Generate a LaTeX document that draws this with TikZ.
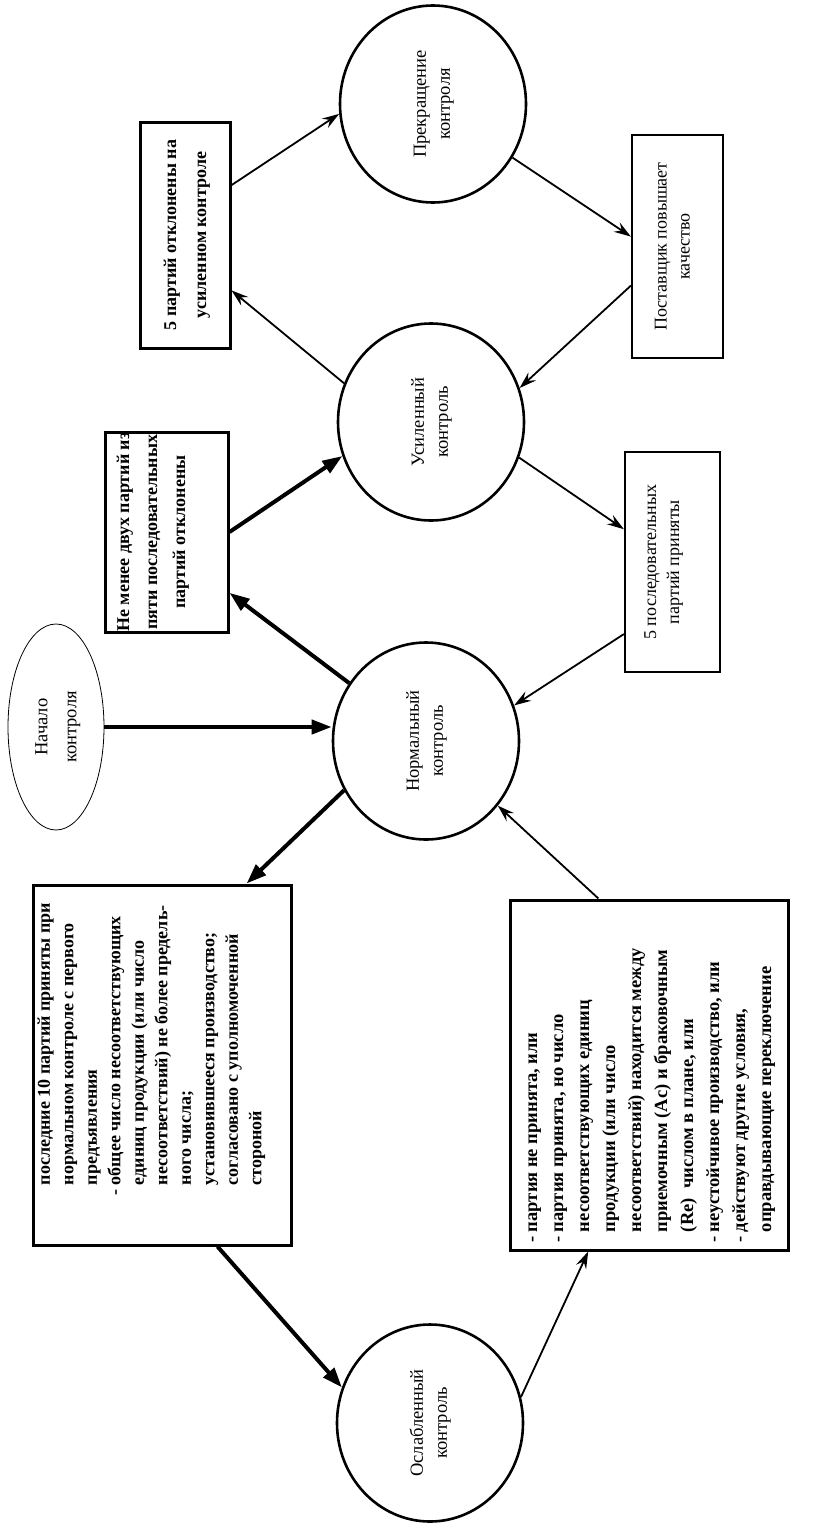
\documentclass[tikz,border=0pt]{standalone}
\usepackage{fontspec}
\setmainfont{Liberation Serif}
\usetikzlibrary{shapes.geometric,arrows.meta}
\newcommand{\rottab}[2][24]{\rotatebox{90}{\fontsize{18.5}{#1}\selectfont\begin{tabular}{@{}c@{}}#2\end{tabular}}}
\newcommand{\rotpar}[4]{\rotatebox{90}{\parbox[c][#1][#3]{#2}{#4}}}
\begin{document}
\begin{tikzpicture}[x=1pt,y=-1pt,
 state/.style={ellipse, draw, line width=2.6pt, minimum width=186pt, minimum height=197pt, inner sep=0pt},
 startnode/.style={ellipse, draw, line width=0.8pt, minimum width=96pt, minimum height=206pt, inner sep=0pt},
 boldbox/.style={draw, line width=3pt, inner sep=0pt, font=\bfseries},
 plainbox/.style={draw, line width=2.2pt, inner sep=0pt},
 thinarrow/.style={line width=1.8pt, -{Stealth[length=17pt,width=11pt,inset=6pt]}},
 boldarrow/.style={line width=4pt, -{Triangle[length=20pt,width=14pt]}}
]
\fill[white] (0,0) rectangle (835,1528);
\useasboundingbox (0,0) rectangle (835,1528);

% states
\node[state] (prek) at (433,104) {\rottab{Прекращение\\контроля}};
\node[state] (usil) at (431,422) {\rottab{Усиленный\\контроль}};
\node[state] (norm) at (426,741) {\rottab{Нормальный\\контроль}};
\node[state] (osl) at (430,1423) {\rottab{Ослабленный\\контроль}};
\node[startnode] (nach) at (56,727) {\rottab[29]{Начало\\контроля}};

% boxes
\node[boldbox] (boxA) at (166.5,532) {\rotpar{123pt}{200pt}{c}{\centering\fontsize{18}{28}\selectfont\begin{tabular}{@{}c@{}}Не менее двух партий из\\пяти последовательных\\партий отклонены\end{tabular}\par\vspace*{30pt}}};
\node[boldbox] (boxB) at (185,235) {\rotpar{90pt}{226pt}{c}{\centering\fontsize{18}{30}\selectfont\begin{tabular}{@{}c@{}}5 партий отклонены на\\усиленном контроле\end{tabular}}};
\node[plainbox] (boxC) at (677.5,246.5) {\rotpar{91pt}{223pt}{c}{\centering\fontsize{18}{23}\selectfont\begin{tabular}{@{}c@{}}Поставщик повышает\\качество\end{tabular}\par\vspace*{8pt}}};
\node[plainbox] (boxD) at (672.5,562) {\rotpar{95pt}{220pt}{c}{\centering\fontsize{18}{23}\selectfont\begin{tabular}{@{}c@{}}5 последовательных\\партий приняты\end{tabular}\par\vspace*{19pt}}};
\node[boldbox] (boxE) at (162,1065) {\rotpar{258pt}{360pt}{c}{\noindent\fontsize{18}{23.5}\selectfont\hspace*{60pt}\begin{tabular}{@{}l@{}}последние 10 партий приняты при\\нормальном контроле с первого\\предъявления\\\llap{- }общее число несоответствующих\\единиц продукции (или число\\несоответствий) не более предель-\\ного числа;\\установившееся производство;\\согласовано с уполномоченной\\стороной\end{tabular}\par\vspace*{22pt}}};
\node[boldbox] (boxF) at (649,1075) {\rotpar{278pt}{350pt}{c}{\noindent\fontsize{18.5}{26}\selectfont\hspace*{18pt}\begin{tabular}{@{}l@{}}\llap{- }партия не принята, или\\\llap{- }партия принята, но число\\несоответствующих единиц\\продукции (или число\\несоответствий) находится между\\приемочным (Ac) и браковочным\\(Re)\ \ числом в плане, или\\\llap{- }неустойчивое производство, или\\\llap{- }действуют другие условия,\\оправдывающие переключение\end{tabular}}};

% connectors
\draw[boldarrow] (nach.east) -- (nach.east -| norm.west);
\draw[boldarrow] (norm.143) -- (boxA.-44);
\draw[boldarrow] (boxA.east) -- (usil.201);
\draw[thinarrow] (usil.156) -- (boxB.-50);
\draw[thinarrow] (boxB.47) -- (prek.186);
\draw[thinarrow] (prek.-34) -- (boxC.168);
\draw[thinarrow] (boxC.220) -- (usil.21);
\draw[thinarrow] (usil.-22) -- (boxD.146);
\draw[thinarrow] (boxD.236) -- (norm.22);
\draw[thinarrow] (boxF.106) -- (norm.-42);
\draw[boldarrow] (norm.211) -- (boxE.65);
\draw[boldarrow] (boxE.-73) -- (osl.158);
\draw[thinarrow] (osl.16) -- (boxF.251);
\end{tikzpicture}
\end{document}
